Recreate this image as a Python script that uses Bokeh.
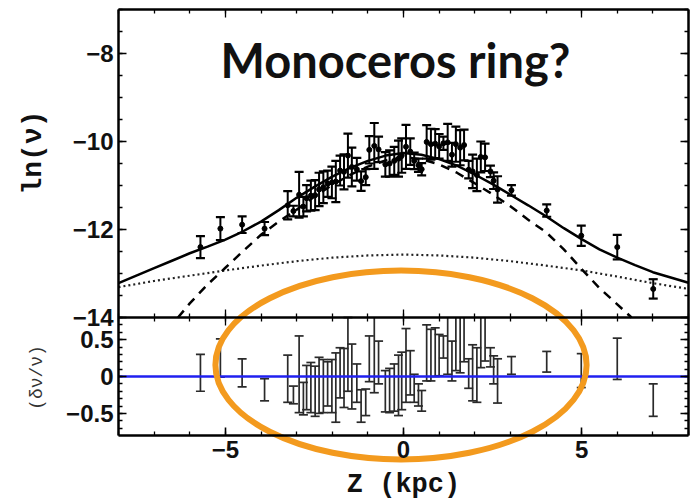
import numpy as np
from bokeh.plotting import figure
from bokeh.models import Range1d, LinearAxis, FixedTicker, Label
from bokeh.embed import file_html
from bokeh.resources import INLINE

# ---- star-count measurements: height above plane, ln(density), error, fractional residual
z = [-5.70, -5.14, -4.53, -3.90,
     -3.25, -3.09, -2.93, -2.81, -2.72, -2.60, -2.48, -2.37, -2.25, -2.13,
     -2.01, -1.90, -1.78, -1.67, -1.56, -1.45, -1.31, -1.19, -1.06, -0.96,
     -0.82, -0.70, -0.51, -0.39, -0.26, -0.14, -0.05, 0.07, 0.19, 0.30,
     0.42, 0.51, 0.65, 0.77, 0.89, 1.00, 1.12, 1.24, 1.36, 1.47,
     1.59, 1.70, 1.83, 1.94, 2.06, 2.17, 2.29, 2.44, 2.53, 2.64,
     3.03, 4.02, 4.99, 6.00, 7.01]
ln_nu = [-12.40, -11.98, -11.89, -11.98,
         -11.45, -11.58, -11.21, -11.48, -11.29, -11.23, -11.22, -11.09, -11.04, -10.96,
         -10.93, -10.91, -10.66, -10.69, -10.32, -10.58, -10.63, -10.90, -10.81, -10.19,
         -10.10, -10.18, -10.52, -10.50, -10.44, -10.39, -10.32, -10.12, -10.23, -10.44,
         -10.54, -10.63, -10.01, -10.06, -10.05, -10.11, -10.04, -10.02, -10.30, -10.06,
         -10.14, -10.08, -10.64, -10.68, -10.76, -10.35, -10.36, -10.68, -10.89, -11.09,
         -11.11, -11.57, -12.14, -12.40, -13.35]
err = [0.25, 0.26, 0.19, 0.15,
       0.32, 0.12, 0.52, 0.22, 0.30, 0.34, 0.34, 0.38, 0.36, 0.30,
       0.36, 0.47, 0.34, 0.40, 0.50, 0.44, 0.26, 0.22, 0.18, 0.31,
       0.52, 0.29, 0.28, 0.30, 0.32, 0.41, 0.39, 0.50, 0.30, 0.19,
       0.15, 0.14, 0.38, 0.35, 0.33, 0.28, 0.15, 0.42, 0.27, 0.40,
       0.40, 0.35, 0.20, 0.38, 0.37, 0.35, 0.31, 0.13, 0.19, 0.30,
       0.12, 0.14, 0.23, 0.28, 0.22]
resid = [0.05, 0.25, 0.05, -0.18,
         -0.03, -0.25, 0.03, -0.30, -0.15, -0.15, -0.20, -0.12, -0.13, -0.10,
         -0.13, -0.15, 0.05, -0.02, 0.30, 0.00, -0.09, -0.40, -0.35, 0.24,
         0.30, 0.19, -0.20, -0.19, -0.15, -0.12, -0.06, 0.15, 0.05, -0.16,
         -0.25, -0.33, 0.32, 0.29, 0.33, 0.29, 0.40, 0.45, 0.21, 0.48,
         0.45, 0.55, 0.04, 0.05, 0.02, 0.47, 0.52, 0.26, 0.09, -0.06,
         0.15, 0.20, 0.08, 0.24, -0.32]

# ---- fitted model: total (solid), thin disk (dashed), thick component (dotted)
z_total = [-8, -7.5, -7, -6.5, -6, -5.5, -5, -4.5, -4, -3.5, -3, -2.5, -2, -1.5, -1, -0.5, 0,
           0.5, 1, 1.5, 2, 2.5, 3, 3.5, 4, 4.5, 5, 5.5, 6, 6.5, 7, 7.5, 8]
total = [-13.22, -13.05, -12.88, -12.71, -12.54, -12.39, -12.23, -12.04, -11.82, -11.56, -11.28,
         -11.03, -10.80, -10.60, -10.44, -10.32, -10.26, -10.30, -10.40, -10.55, -10.75, -10.97,
         -11.21, -11.45, -11.70, -11.97, -12.22, -12.45, -12.64, -12.81, -12.97, -13.09, -13.21]
z_thin = [-6.33, -6, -5.5, -5, -4.5, -4, -3.5, -3, -2.5, -2, -1.5, -1, -0.5, 0,
          0.5, 1, 1.5, 2, 2.5, 3, 3.5, 4, 4.5, 5, 5.5, 6, 6.4]
thin = [-14.0, -13.68, -13.25, -12.87, -12.49, -12.12, -11.82, -11.55, -11.25, -10.99, -10.76,
        -10.57, -10.43, -10.36, -10.40, -10.52, -10.71, -10.95, -11.20, -11.47, -11.78, -12.06,
        -12.45, -12.90, -13.33, -13.70, -14.0]
z_thick = [-8, -7, -6, -5, -4, -3, -2, -1, 0, 1, 2, 3, 4, 5, 6, 7, 8]
thick = [-13.31, -13.17, -13.05, -12.93, -12.82, -12.72, -12.64, -12.59, -12.57, -12.59,
         -12.64, -12.72, -12.82, -12.93, -13.07, -13.22, -13.35]

# ---- axis ticks
x_ticks = [-5, 0, 5]
top_ticks = [-14, -12, -10, -8]
res_ticks = [-0.5, 0, 0.5]

# ---- panel geometry (pixels) and data limits
X_LO, X_HI = -8, 8
TOP_LO, TOP_HI = -14, -7
RES_LO, RES_HI = -0.8, 0.8
M_LEFT, M_RIGHT, M_TOP, M_BOTTOM = 118, 9, 9, 67
TOP_PX, BOT_PX = 308, 118
W, H = 697, 502

PX_X = (W - M_LEFT - M_RIGHT) / (X_HI - X_LO)
PX_MAIN = TOP_PX / (TOP_HI - TOP_LO)
PX_RES = BOT_PX / (RES_HI - RES_LO)


def res_to_main(r):
    return TOP_LO - (RES_HI - r) * PX_RES / PX_MAIN


BOTTOM_MAIN = res_to_main(RES_LO)

p = figure(width=W, height=H, output_backend="svg", toolbar_location=None,
           x_axis_location=None, y_axis_location=None,
           x_range=Range1d(X_LO - M_LEFT / PX_X, X_HI + M_RIGHT / PX_X),
           y_range=Range1d(TOP_LO - (BOT_PX + M_BOTTOM) / PX_MAIN, TOP_HI + M_TOP / PX_MAIN),
           min_border=0, background_fill_color="white", border_fill_color="white")
p.extra_y_ranges = {"res": Range1d(RES_LO - M_BOTTOM / PX_RES, RES_HI + (TOP_PX + M_TOP) / PX_RES)}
p.grid.visible = False
p.outline_line_color = None

FRAME_W = 2.5
LABEL_FONT = "Liberation Sans"


def frame_axis(side, loc, bounds, major, minor, labels=None, both=False):
    """An axis pinned at a data location: frame edge plus inward ticks."""
    made = []
    if labels is not None:
        ax = LinearAxis(fixed_location=loc, bounds=bounds,
                        ticker=FixedTicker(ticks=major, minor_ticks=minor))
        ax.major_label_overrides = labels
        ax.major_label_text_font = LABEL_FONT
        ax.major_label_text_font_style = "bold"
        ax.major_label_text_font_size = "24px"
        ax.major_label_text_color = "#111111"
        ax.major_tick_in, ax.major_tick_out = 8, (8 if both else 0)
        ax.minor_tick_in, ax.minor_tick_out = 4, (4 if both else 0)
        made.append(ax)
    else:
        big = LinearAxis(fixed_location=loc, bounds=bounds,
                         ticker=FixedTicker(ticks=[], minor_ticks=major))
        big.minor_tick_in, big.minor_tick_out = 8, (8 if both else 0)
        small = LinearAxis(fixed_location=loc, bounds=bounds,
                           ticker=FixedTicker(ticks=[], minor_ticks=minor))
        small.minor_tick_in, small.minor_tick_out = 4, (4 if both else 0)
        small.axis_line_color = None
        made += [big, small]
    for ax in made:
        if ax.axis_line_color is not None:
            ax.axis_line_color = "black"
            ax.axis_line_width = FRAME_W
        ax.major_tick_line_color = "black"
        ax.minor_tick_line_color = "black"
        ax.major_tick_line_width = 1.6
        ax.minor_tick_line_width = 1.3
        p.add_layout(ax, side)


# tick positions: residual ticks are placed on the shared vertical scale
y_major = top_ticks + [round(res_to_main(r), 6) for r in res_ticks]
y_minor = [float(v) for v in np.arange(TOP_LO, TOP_HI + 0.01, 0.5)] + \
          [round(res_to_main(r), 6) for r in np.arange(RES_LO + 0.1, RES_HI - 0.05, 0.1)]
x_minor = [float(v) for v in range(X_LO, X_HI + 1)]

labels_y = {float(t): "\u2212%d" % abs(t) for t in top_ticks}
for r in res_ticks:
    labels_y[round(res_to_main(r), 6)] = ("\u2212" if r < 0 else "") + ("%g" % abs(r))
labels_x = {float(t): ("\u2212%d" % abs(t)) if t < 0 else "%d" % t for t in x_ticks}

y_bounds = (BOTTOM_MAIN, TOP_HI)
x_bounds = (X_LO, X_HI)
frame_axis("left", X_LO, y_bounds, y_major, y_minor, labels=labels_y)
frame_axis("right", X_HI, y_bounds, y_major, y_minor)
frame_axis("below", BOTTOM_MAIN, x_bounds, x_ticks, x_minor, labels=labels_x)
frame_axis("above", TOP_HI, x_bounds, x_ticks, x_minor)
frame_axis("below", TOP_LO, x_bounds, x_ticks, x_minor, both=True)

# ---- upper panel: model curves
p.line(z_thick, thick, line_color="#222222", line_width=2.2, line_dash="2 3")
p.line(z_thin, thin, line_color="black", line_width=2.5, line_dash="9 7")
p.line(z_total, total, line_color="black", line_width=2.5)

# ---- upper panel: data with error bars
zv = np.array(z)
lv = np.array(ln_nu)
ev = np.array(err)
rv = np.array(resid)
p.segment(x0=zv, y0=lv - ev, x1=zv, y1=lv + ev, line_color="black", line_width=2)
p.scatter(np.concatenate([zv, zv]), np.concatenate([lv - ev, lv + ev]), marker="dash",
          size=9, line_color="black", line_width=2.2)
p.scatter(zv, lv, size=5, color="black")

# ---- lower panel: residuals, cut at the panel top
r_hi = np.minimum(rv + ev, RES_HI)
r_lo = rv - ev
p.segment(x0=zv, y0=r_lo, x1=zv, y1=r_hi, line_color="#2a2a2a", line_width=1.7,
          y_range_name="res")
cap_ok = (rv + ev) <= RES_HI
p.scatter(np.concatenate([zv, zv[cap_ok]]), np.concatenate([r_lo, r_hi[cap_ok]]),
          marker="dash", size=9, line_color="#2a2a2a", line_width=1.7, y_range_name="res")
p.segment(x0=[X_LO], y0=[0], x1=[X_HI], y1=[0], line_color="#2020f0", line_width=2.5,
          y_range_name="res")

# ---- highlight ellipse around the inner residuals
RING_X, RING_Y, RING_W, RING_H = -0.07, 0.156, 10.42, 2.56
p.ellipse(x=[RING_X], y=[RING_Y], width=[RING_W], height=[RING_H], y_range_name="res",
          fill_color=None, line_color="#F39A1E", line_width=6)


# ---- texts (placed in data coordinates of the main scale)
def px_x(px):
    return X_LO + (px - M_LEFT) / PX_X


def px_y(py):
    return TOP_HI - (py - M_TOP) / PX_MAIN


p.add_layout(Label(x=px_x(395), y=px_y(59), text="Monoceros ring?",
                   text_font="Lato", text_font_style="bold", text_font_size="47px",
                   text_align="center", text_baseline="alphabetic", text_color="#111111"))
p.add_layout(Label(x=px_x(33), y=px_y(152), text="ln(\u03bd)", angle=np.pi / 2,
                   text_font="Liberation Mono", text_font_style="bold", text_font_size="28px",
                   text_align="center", text_baseline="middle", text_color="#111111"))
p.add_layout(Label(x=px_x(36), y=px_y(377), text="(\u03b4\u03bd/\u03bd)", angle=np.pi / 2,
                   text_font="Liberation Mono", text_font_size="18px",
                   text_align="center", text_baseline="middle", text_color="#333333"))
p.add_layout(Label(x=px_x(403), y=px_y(484), text="Z (kpc)",
                   text_font="Liberation Mono", text_font_style="bold", text_font_size="27px",
                   text_align="center", text_baseline="middle", text_color="#111111"))

open("out.html", "w").write(file_html(p, INLINE))
